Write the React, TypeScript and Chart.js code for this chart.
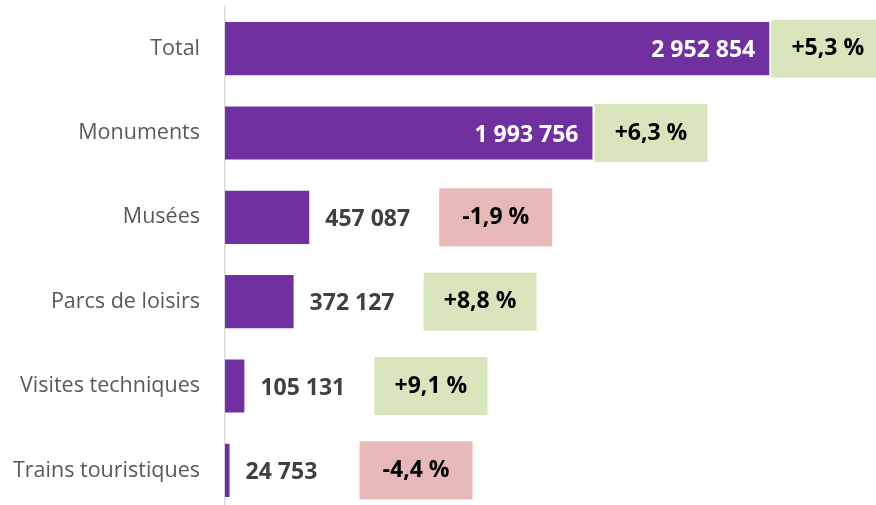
import React, { useEffect, useRef } from "react";
import { Chart, registerables } from "chart.js";

Chart.register(...registerables);

const categories = [
  "Total",
  "Monuments",
  "Musées",
  "Parcs de loisirs",
  "Visites techniques",
  "Trains touristiques",
];
const visitors = [2952854, 1993756, 457087, 372127, 105131, 24753];
const changes = [5.3, 6.3, -1.9, 8.8, 9.1, -4.4];

const PURPLE = "#7030A0";
const GREEN = "#D8E4BC";
const PINK = "#E6B8B7";
const FONT = "'Open Sans', 'Liberation Sans', sans-serif";

const fmtNumber = (v: number) =>
  String(v).replace(/\B(?=(\d{3})+(?!\d))/g, " ");
const fmtPct = (v: number) =>
  (v > 0 ? "+" : "-") + Math.abs(v).toFixed(1).replace(".", ",") + " %";

const labelPlugin = {
  id: "valueLabels",
  afterDatasetsDraw(chart: any) {
    const ctx = chart.ctx;
    const meta = chart.getDatasetMeta(0);
    ctx.save();
    meta.data.forEach((bar: any, i: number) => {
      const v = visitors[i];
      const inside = v > 1000000;
      const endX = bar.x;
      const y = bar.y;
      ctx.font = `bold 23px ${FONT}`;
      ctx.textBaseline = "middle";
      let boxLeft: number;
      if (inside) {
        ctx.fillStyle = "#FFFFFF";
        ctx.textAlign = "right";
        ctx.fillText(fmtNumber(v), endX - 14, y + 2);
        boxLeft = endX + 2;
      } else {
        ctx.fillStyle = "#404040";
        ctx.textAlign = "left";
        ctx.fillText(fmtNumber(v), endX + 16, y + 2);
        boxLeft = endX + 130;
      }
      const bw = 113;
      const bh = 58;
      ctx.fillStyle = changes[i] >= 0 ? GREEN : PINK;
      ctx.fillRect(boxLeft, y - bh / 2, bw, bh);
      ctx.fillStyle = "#000000";
      ctx.textAlign = "center";
      ctx.font = `bold 23px ${FONT}`;
      ctx.fillText(fmtPct(changes[i]), boxLeft + bw / 2, y);
    });
    ctx.restore();
  },
};

export default function App() {
  const canvasRef = useRef<HTMLCanvasElement>(null);

  useEffect(() => {
    if (!canvasRef.current) return;
    const chart = new Chart(canvasRef.current, {
      type: "bar",
      data: {
        labels: categories,
        datasets: [
          {
            data: visitors,
            backgroundColor: PURPLE,
            borderWidth: 0,
            barPercentage: 0.63,
            categoryPercentage: 1,
          },
        ],
      },
      options: {
        indexAxis: "y",
        responsive: false,
        animation: false,
        devicePixelRatio: 1,
        layout: { padding: 0 },
        plugins: {
          legend: { display: false },
          tooltip: { enabled: false },
        },
        scales: {
          x: {
            display: false,
            min: 0,
            max: 3532000,
          },
          y: {
            afterFit: (scale: any) => {
              scale.width = 225;
            },
            grid: {
              display: true,
              drawOnChartArea: false,
              drawTicks: true,
              tickLength: 25,
              color: "rgba(0,0,0,0)",
            },
            border: { display: true, color: "#D9D9D9", width: 1.5 },
            ticks: {
              color: "#595959",
              padding: 0,
              font: { family: FONT, size: 21.5, lineHeight: 0.6 },
            },
          },
        },
      },
      plugins: [labelPlugin],
    });
    return () => chart.destroy();
  }, []);

  return (
    <div
      style={{
        position: "absolute",
        top: 0,
        left: 0,
        width: 876,
        height: 505,
        overflow: "hidden",
        background: "#fff",
      }}
    >
      <canvas ref={canvasRef} width={876} height={519} />
    </div>
  );
}
